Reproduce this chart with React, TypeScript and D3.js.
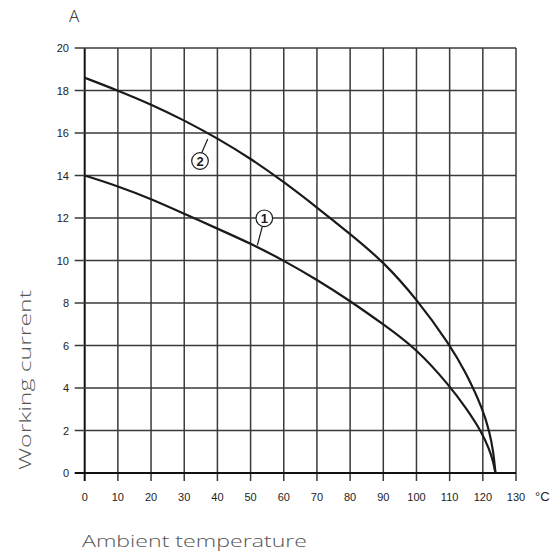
import React from "react";
import * as d3 from "d3";

const xTicks = [0, 10, 20, 30, 40, 50, 60, 70, 80, 90, 100, 110, 120, 130];
const yTicks = [0, 2, 4, 6, 8, 10, 12, 14, 16, 18, 20];

const curve2X = [0, 10, 20, 30, 40, 50, 60, 70, 80, 90, 100, 110, 115, 120, 122, 123.2, 123.8];
const curve2Y = [18.6, 18.0, 17.35, 16.6, 15.75, 14.8, 13.7, 12.5, 11.25, 9.95, 8.2, 6.05, 4.7, 3.0, 1.95, 1.0, 0];
const curve1X = [0, 10, 20, 30, 40, 50, 60, 70, 80, 90, 100, 110, 115, 119.6, 122, 123.1, 123.8];
const curve1Y = [14.0, 13.5, 12.9, 12.2, 11.5, 10.8, 10.0, 9.1, 8.1, 7.0, 5.85, 4.1, 3.05, 1.95, 1.1, 0.55, 0];

const yUnit = "A";
const xUnit = "°C";
const yTitle = "Working current";
const xTitle = "Ambient temperature";

export default function App() {
  const x = d3.scaleLinear().domain([0, 130]).range([84.7, 516]);
  const y = d3.scaleLinear().domain([0, 20]).range([473, 48]);
  const line = d3
    .line<[number, number]>()
    .x((d) => x(d[0]))
    .y((d) => y(d[1]))
    .curve(d3.curveBasis);
  const c1 = curve1X.map((v, i) => [v, curve1Y[i]] as [number, number]);
  const c2 = curve2X.map((v, i) => [v, curve2Y[i]] as [number, number]);
  const tickFont = "'Liberation Sans', Arial, sans-serif";
  const titleFont = "'Open Sans', sans-serif";
  return (
    <svg
      width={556}
      height={555}
      style={{ position: "absolute", left: 0, top: 0, background: "#fff" }}
    >
      {/* grid */}
      {xTicks.map((t) => (
        <line
          key={"gx" + t}
          x1={x(t)}
          x2={x(t)}
          y1={y(20)}
          y2={y(0) + 8}
          stroke={t === 0 ? "#111" : "#3a3a3a"}
          strokeWidth={t === 0 ? 2 : 1.5}
        />
      ))}
      {yTicks.map((t) => (
        <line
          key={"gy" + t}
          x1={x(0) - 10}
          x2={x(130)}
          y1={y(t)}
          y2={y(t)}
          stroke={t === 0 ? "#111" : "#3a3a3a"}
          strokeWidth={t === 0 ? 2 : 1.5}
        />
      ))}
      {/* tick labels */}
      {yTicks.map((t) => (
        <text
          key={"ly" + t}
          x={69}
          y={y(t) + 4}
          textAnchor="end"
          fontFamily={tickFont}
          fontSize={11}
          fill="#222"
        >
          {t}
        </text>
      ))}
      {xTicks.map((t) => (
        <text
          key={"lx" + t}
          x={x(t)}
          y={501}
          textAnchor="middle"
          fontFamily={tickFont}
          fontSize={11}
          fill="#222"
        >
          {t}
        </text>
      ))}
      <text x={535} y={501} fontFamily={tickFont} fontSize={13} fill="#222">
        {xUnit}
      </text>
      <text x={69} y={22} fontFamily={titleFont} fontWeight={300} fontSize={17} fill="#222">
        {yUnit}
      </text>
      {/* curves */}
      <path d={line(c2) ?? ""} fill="none" stroke="#1a1a1a" strokeWidth={2.2} />
      <path d={line(c1) ?? ""} fill="none" stroke="#1a1a1a" strokeWidth={2.2} />
      {/* labels */}
      <line x1={201.7} y1={153} x2={207.7} y2={139} stroke="#1a1a1a" strokeWidth={1.2} />
      <circle cx={200} cy={161} r={8.3} fill="#fff" stroke="#1a1a1a" strokeWidth={1.2} />
      <text x={200} y={165.5} textAnchor="middle" fontFamily={tickFont} fontWeight="bold" fontSize={13} fill="#1a1a1a">
        2
      </text>
      <line x1={262.3} y1={226.5} x2={257.3} y2={245.3} stroke="#1a1a1a" strokeWidth={1.2} />
      <circle cx={264.3} cy={218.3} r={8.3} fill="#fff" stroke="#1a1a1a" strokeWidth={1.2} />
      <text x={264.3} y={222.8} textAnchor="middle" fontFamily={tickFont} fontWeight="bold" fontSize={13} fill="#1a1a1a">
        1
      </text>
      {/* titles */}
      <text
        transform="translate(31,380) rotate(-90)"
        textAnchor="middle"
        fontFamily={titleFont}
        fontWeight={300}
        fontSize={17}
        fill="#555"
        textLength={180}
        lengthAdjust="spacingAndGlyphs"
      >
        {yTitle}
      </text>
      <text
        x={82}
        y={547}
        fontFamily={titleFont}
        fontWeight={300}
        fontSize={17}
        fill="#555"
        textLength={225}
        lengthAdjust="spacingAndGlyphs"
      >
        {xTitle}
      </text>
    </svg>
  );
}
